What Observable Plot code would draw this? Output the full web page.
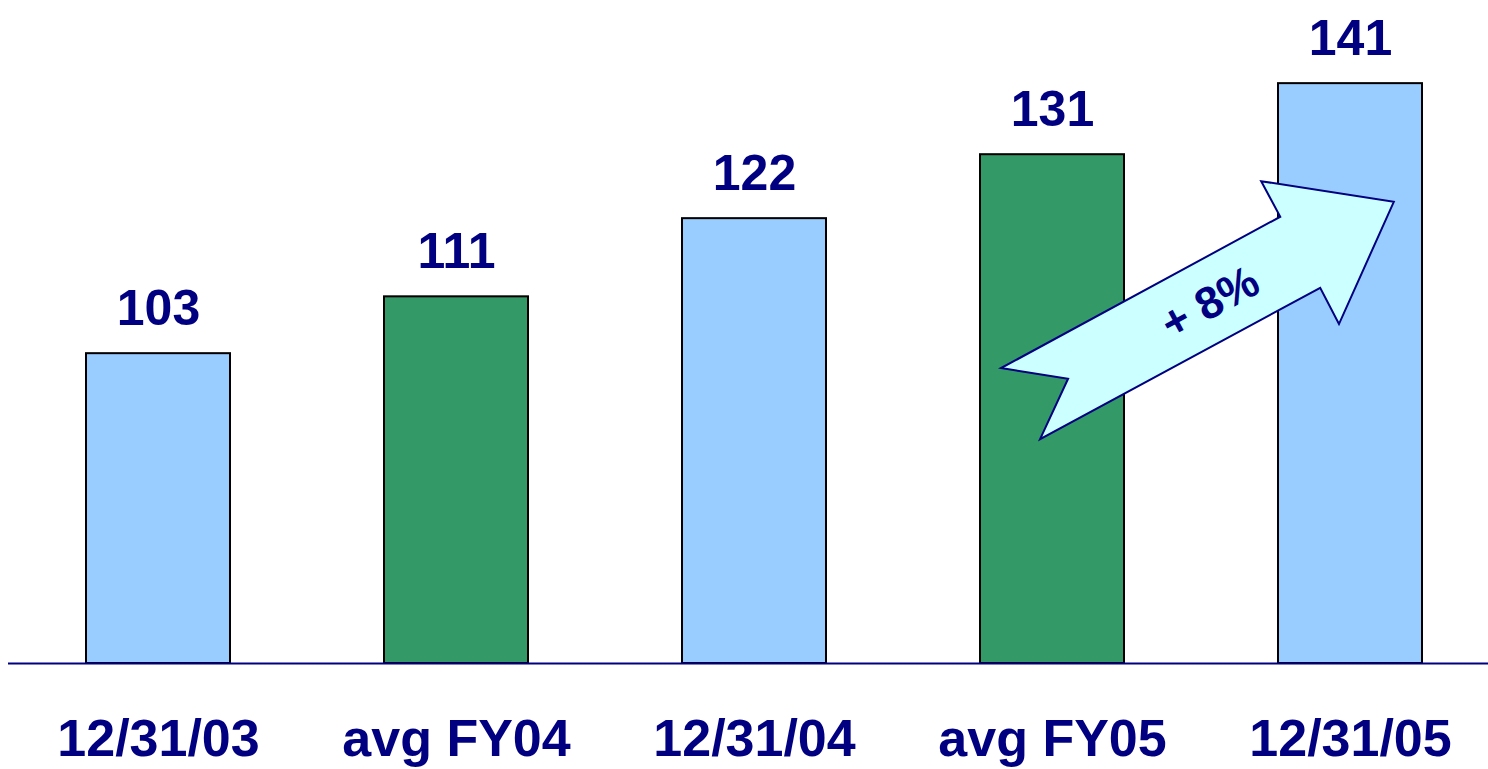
<!DOCTYPE html>
<html>
<head>
<meta charset="utf-8">
<script src="https://cdn.jsdelivr.net/npm/d3@7"></script>
<script src="https://cdn.jsdelivr.net/npm/@observablehq/plot@0.6"></script>
<style>
  html, body { margin: 0; padding: 0; background: #fff; }
  #chart svg { display: block; }
</style>
</head>
<body>
<div id="chart"></div>
<script>
// ---- data ----
const categories = ["12/31/03", "avg FY04", "12/31/04", "avg FY05", "12/31/05"];
const values = [103, 111, 122, 131, 141];
const kinds = ["year-end", "average", "year-end", "average", "year-end"];
const yDomain = [59.4, 152.7];

// growth arrow annotation (category, offset in band steps, value)
const arrowCats = ["avg FY05", "avg FY05", "avg FY05", "12/31/05", "12/31/05", "12/31/05", "12/31/05", "12/31/05"];
const arrowOffsets = [-0.171, 0.054, -0.040, -0.100, -0.037, 0.147, -0.298, -0.234];
const arrowValues = [100.9, 99.4, 90.9, 112.2, 107.1, 124.3, 127.2, 122.2];
const arrowLabel = "+ 8%";
const arrowLabelCat = "avg FY05";
const arrowLabelOffset = 0.529;
const arrowLabelValue = 110.2;

const data = categories.map((c, i) => ({cat: c, value: values[i], kind: kinds[i]}));

const font = "'Liberation Sans', Arial, Helvetica, sans-serif";
const navy = "#000080";

function arrowMark(index, scales) {
  const x = scales.x, y = scales.y;
  const bw = x.bandwidth();
  const step = x(categories[1]) - x(categories[0]);
  const px = (c, o) => x(c) + bw / 2 + o * step;
  const pts = arrowCats.map((c, i) => [px(c, arrowOffsets[i]), y(arrowValues[i])]);
  const g = d3.create("svg:g");
  g.append("polygon")
    .attr("points", pts.map(p => p.join(",")).join(" "))
    .attr("fill", "#ccffff")
    .attr("stroke", navy)
    .attr("stroke-width", 2)
    .attr("stroke-linejoin", "miter");
  const angle = Math.atan2(pts[7][1] - pts[0][1], pts[7][0] - pts[0][0]) * 180 / Math.PI;
  const tx = px(arrowLabelCat, arrowLabelOffset), ty = y(arrowLabelValue);
  g.append("text")
    .attr("transform", `translate(${tx},${ty}) rotate(${angle})`)
    .attr("text-anchor", "middle")
    .attr("dy", "0.35em")
    .attr("fill", navy)
    .attr("font-family", font)
    .attr("font-weight", "bold")
    .attr("font-size", 45)
    .text(arrowLabel);
  return g.node();
}

const chart = Plot.plot({
  width: 1488,
  height: 769,
  marginTop: 0,
  marginBottom: 106,
  marginLeft: 24,
  marginRight: 5,
  style: {fontFamily: font, background: "#fff"},
  x: {domain: categories, paddingInner: 0.518, paddingOuter: 0.2, axis: null},
  y: {domain: yDomain, axis: null},
  color: {domain: ["year-end", "average"], range: ["#99ccff", "#339966"]},
  marks: [
    Plot.barY(data, {x: "cat", y1: yDomain[0], y2: "value", fill: "kind", stroke: "#000", strokeWidth: 2}),
    Plot.ruleY([yDomain[0]], {stroke: navy, strokeWidth: 2, insetLeft: -16, insetRight: -5}),
    Plot.text(data, {x: "cat", y: "value", text: d => String(d.value), lineAnchor: "bottom", dy: -29,
      fill: navy, fontSize: 50, fontWeight: "bold"}),
    Plot.text(data, {x: "cat", frameAnchor: "bottom", text: "cat", lineAnchor: "bottom", dy: 92,
      fill: navy, fontSize: 52, fontWeight: "bold"}),
    arrowMark
  ]
});
document.getElementById("chart").appendChild(chart);
</script>
</body>
</html>
